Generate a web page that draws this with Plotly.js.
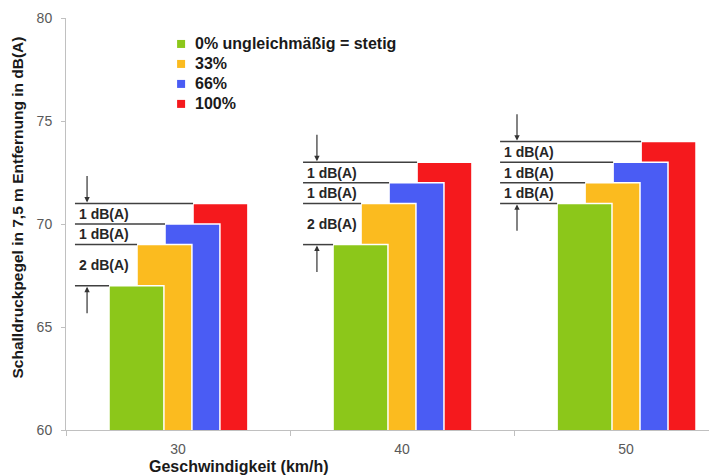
<!DOCTYPE html>
<html><head><meta charset="utf-8">
<script src="https://cdn.plot.ly/plotly-3.0.1.min.js"></script>
<style>html,body{margin:0;padding:0;background:#fff}#chart{width:709px;height:476px}</style>
</head><body><div id="chart"></div>
<script>
// ---- data ----
const categories = ['30', '40', '50'];
const seriesNames = ['0% ungleichmäßig = stetig', '33%', '66%', '100%'];
const green  = [67, 69, 71];
const yellow = [69, 71, 72];
const blue   = [70, 72, 73];
const red    = [71, 73, 74];
const yTitle = 'Schalldruckpegel in 7,5 m Entfernung in dB(A)';
const xTitle = 'Geschwindigkeit (km/h)';

// ---- styles / positions ----
const colors = ['#8cc71a', '#fbbb1f', '#4a5cf4', '#f5191d'];
const barOffsets = [-0.308, -0.183, -0.058, 0.067];
const barWidth = 0.245;
const lineStart = [-0.46, -0.442, -0.5625];
const arrowX = [-0.406, -0.38, -0.487];
const FONT = 'Liberation Sans, Arial, sans-serif';
// legend placement (paper coords)
const legTextX = 0.1975, legSymX = 0.1790, legTopY = 0.937, legStep = 0.0485;

const series = [green, yellow, blue, red];
const traces = [];
for (let s = 3; s >= 0; s--) {
  traces.push({
    type: 'bar', name: seriesNames[s], x: categories, y: series[s],
    width: barWidth, offset: barOffsets[s],
    marker: {color: colors[s], line: {color: '#ffffff', width: 1.5}},
    hoverinfo: 'x+y', showlegend: false
  });
}

const shapes = [];
const annotations = [];
categories.forEach((c, g) => {
  const vals = series.map(a => a[g]);
  vals.forEach((v, s) => {
    shapes.push({type: 'line', xref: 'x', yref: 'y',
      x0: g + lineStart[g], x1: g + barOffsets[s], y0: v, y1: v,
      line: {color: '#404040', width: 1.5}});
  });
  for (let s = 1; s < 4; s++) {
    const d = vals[s] - vals[s - 1];
    annotations.push({xref: 'x', yref: 'y', x: g + lineStart[g], y: (vals[s] + vals[s - 1]) / 2,
      text: d + ' dB(A)', showarrow: false, xanchor: 'left', yanchor: 'middle', xshift: 2,
      font: {family: FONT, size: 14, color: '#262626', weight: 700}});
  }
  const top = vals[3], bot = vals[0];
  annotations.push({xref: 'x', yref: 'y', axref: 'x', ayref: 'y', x: g + arrowX[g], y: top,
    ax: g + arrowX[g], ay: top + 1.4, text: '', showarrow: true, arrowhead: 2, arrowsize: 0.9,
    arrowwidth: 1.2, arrowcolor: '#333333', standoff: 1});
  annotations.push({xref: 'x', yref: 'y', axref: 'x', ayref: 'y', x: g + arrowX[g], y: bot,
    ax: g + arrowX[g], ay: bot - 1.4, text: '', showarrow: true, arrowhead: 2, arrowsize: 0.9,
    arrowwidth: 1.2, arrowcolor: '#333333', standoff: 1});
});

// legend (manual, built from series names & colours)
seriesNames.forEach((n, s) => {
  const yy = legTopY - s * legStep;
  shapes.push({type: 'rect', xref: 'paper', yref: 'paper', xsizemode: 'pixel', ysizemode: 'pixel',
    xanchor: legSymX, yanchor: yy, x0: -4, x1: 4, y0: -4, y1: 4,
    fillcolor: colors[s], line: {width: 0}});
  annotations.push({xref: 'paper', yref: 'paper', x: legTextX, y: yy, text: n, showarrow: false,
    xanchor: 'left', yanchor: 'middle',
    font: {family: FONT, size: 16, color: '#1a1a1a', weight: 700}});
});

// axis titles
annotations.push({xref: 'paper', yref: 'paper', x: -0.0747, y: 0.54, textangle: -90,
  text: yTitle, showarrow: false, xanchor: 'center', yanchor: 'middle',
  font: {family: FONT, size: 15.5, color: '#1a1a1a', weight: 700}});
annotations.push({xref: 'paper', yref: 'paper', x: 0.269, y: 0, yshift: -36,
  text: xTitle, showarrow: false, xanchor: 'center', yanchor: 'middle',
  font: {family: FONT, size: 16, color: '#1a1a1a', weight: 700}});

const layout = {
  width: 709, height: 476,
  margin: {l: 66, r: 0, t: 18, b: 46},
  paper_bgcolor: '#ffffff', plot_bgcolor: '#ffffff',
  font: {family: FONT, size: 14, color: '#595959'},
  barmode: 'overlay',
  showlegend: false,
  xaxis: {type: 'category', range: [-0.5, 2.37], showline: true, linecolor: '#c0c0c0', linewidth: 1,
    ticks: 'outside', tickson: 'boundaries', ticklen: 5, tickcolor: '#c0c0c0',
    showgrid: false, zeroline: false, tickfont: {size: 14, color: '#595959'}, ticklabelstandoff: 6},
  yaxis: {range: [60, 80], dtick: 5, showline: true, linecolor: '#c0c0c0', linewidth: 1,
    ticks: 'outside', ticklen: 4, tickcolor: '#c0c0c0', showgrid: false, zeroline: false,
    tickfont: {size: 14, color: '#595959'}, ticklabelstandoff: 6},
  shapes: shapes,
  annotations: annotations
};

Plotly.newPlot('chart', traces, layout, {displayModeBar: false, staticPlot: true});
</script></body></html>
